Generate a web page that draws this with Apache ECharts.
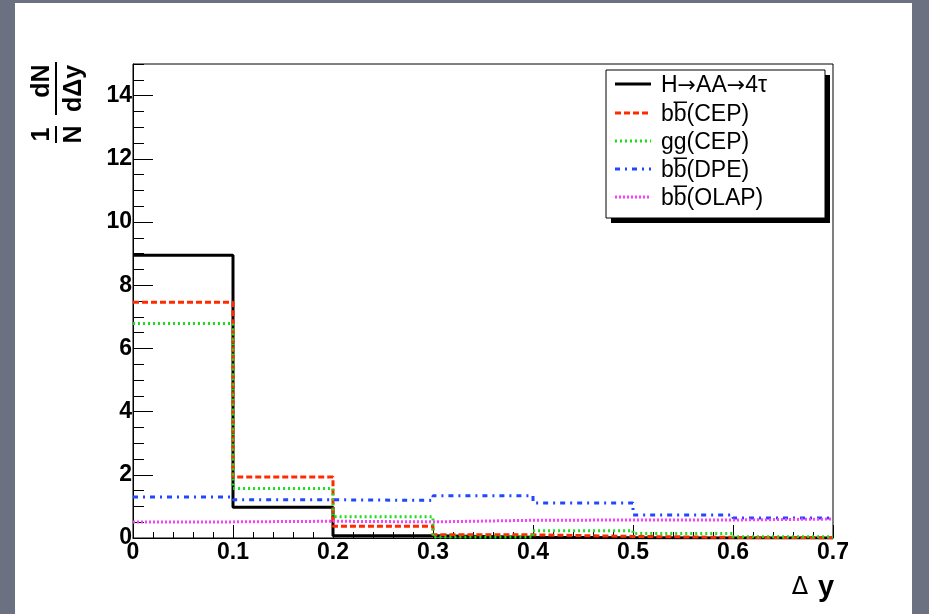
<!DOCTYPE html>
<html>
<head>
<meta charset="utf-8">
<script src="https://cdn.jsdelivr.net/npm/echarts@6/dist/echarts.min.js"></script>
<style>
  html, body { margin: 0; padding: 0; background: #6b7180; }
  #chart { width: 929px; height: 614px; }
</style>
</head>
<body>
<div id="chart"></div>
<script>
// Normalised Δy distributions, 7 bins of width 0.1 between 0 and 0.7
const binEdges = [0, 0.1, 0.2, 0.3, 0.4, 0.5, 0.6, 0.7];
const seriesNames = ['H\u2192AA\u21924\u03c4', 'bb\u0305(CEP)', 'gg(CEP)', 'bb\u0305(DPE)', 'bb\u0305(OLAP)'];
const hToAA4tau = [8.95, 0.97, 0.07, 0.02, 0.01, 0.00, 0.00];
const bbCEP     = [7.46, 1.93, 0.37, 0.10, 0.05, 0.02, 0.01];
const ggCEP     = [6.79, 1.57, 0.67, 0.03, 0.23, 0.14, 0.04];
const bbDPE     = [1.30, 1.21, 1.19, 1.34, 1.11, 0.73, 0.63];
const bbOLAP    = [0.51, 0.53, 0.51, 0.56, 0.57, 0.57, 0.60];

const seriesValues = [hToAA4tau, bbCEP, ggCEP, bbDPE, bbOLAP];
const seriesColors = ['#000000', '#ff2a00', '#19e019', '#1f48ff', '#ff3cff'];
const seriesDash = ['solid', [6, 3], [2, 3], [5, 5, 2, 5], [2, 2]];

// histogram outline: each bin value held from its lower edge to the next edge
function histSteps(vals) {
  return binEdges.map((e, i) => [e, vals[Math.min(i, vals.length - 1)]]);
}

const labelFont = { fontFamily: 'Liberation Sans', fontWeight: 'bold', fontSize: 23, color: '#000' };
const txtFont = '23px "Liberation Sans"';
const boldFont = 'bold 25px "Liberation Sans"';

// legend entries: arrows set in a wider face so they read at full size
function legendText(name) {
  return name.split(/(\u2192)/).filter(s => s.length)
    .map(s => s === '\u2192' ? '{a|\u2192}' : '{t|' + s + '}').join('');
}

const legendRowY = [84, 113, 141, 169, 197];
const legendChildren = [
  { type: 'rect', shape: { x: 611, y: 75, width: 219, height: 148 }, style: { fill: '#000' } },
  { type: 'rect', shape: { x: 606, y: 70, width: 219, height: 148 }, style: { fill: '#fff', stroke: '#000', lineWidth: 1 } }
];
seriesNames.forEach((name, i) => {
  legendChildren.push({
    type: 'line',
    shape: { x1: 615, y1: legendRowY[i], x2: 651, y2: legendRowY[i] },
    style: { stroke: seriesColors[i], lineWidth: 3, lineDash: seriesDash[i] === 'solid' ? null : seriesDash[i] }
  });
  legendChildren.push({
    type: 'text', x: 661, y: legendRowY[i] + 2,
    style: {
      text: legendText(name), fill: '#000', verticalAlign: 'middle', align: 'left',
      rich: {
        t: { font: txtFont, fill: '#000' },
        a: { font: '22px "DejaVu Sans"', fill: '#000' }
      }
    }
  });
});

const chart = echarts.init(document.getElementById('chart'), null, { renderer: 'canvas' });
chart.setOption({
  backgroundColor: '#6b7180',
  animation: false,
  grid: {
    left: 133, right: 96, top: 64, bottom: 76,
    show: true, borderColor: '#000', borderWidth: 1, backgroundColor: 'transparent'
  },
  xAxis: {
    type: 'value', min: 0, max: 0.7, interval: 0.1,
    axisLine: { show: true, onZero: false, lineStyle: { color: '#000', width: 1 } },
    axisTick: { show: true, inside: true, length: 13, lineStyle: { color: '#000', width: 1 } },
    minorTick: { show: true, splitNumber: 5, length: 6, lineStyle: { color: '#000', width: 1 } },
    axisLabel: Object.assign({ margin: 3 }, labelFont),
    splitLine: { show: false }, minorSplitLine: { show: false }
  },
  yAxis: [
    {
      type: 'value', min: 0, max: 15, interval: 2,
      axisLine: { show: true, lineStyle: { color: '#000', width: 1 } },
      axisTick: { show: true, inside: true, length: 20, lineStyle: { color: '#000', width: 1 } },
      axisLabel: Object.assign({ margin: 1, showMaxLabel: false }, labelFont),
      splitLine: { show: false }
    },
    {
      type: 'value', min: 0, max: 15, interval: 0.5, position: 'left',
      axisLine: { show: false },
      axisTick: { show: true, inside: true, length: 11, lineStyle: { color: '#000', width: 1 } },
      axisLabel: { show: false },
      splitLine: { show: false }
    }
  ],
  series: seriesValues.map((vals, i) => ({
    type: 'line', name: seriesNames[i], step: 'end', yAxisIndex: 0,
    data: histSteps(vals), symbol: 'none', z: 3 + i,
    lineStyle: { color: seriesColors[i], width: 3, type: seriesDash[i], cap: 'butt' }
  })),
  graphic: [
    { type: 'rect', z: -10, silent: true, shape: { x: 15, y: 3, width: 897, height: 620 }, style: { fill: '#fff' } },
    { type: 'group', children: legendChildren },
    // y-axis title: (1/N) (dN/dΔy), rotated to read upwards
    {
      type: 'group', x: 56, y: 143, rotation: Math.PI / 2,
      children: [
        { type: 'line', shape: { x1: 0, y1: 0, x2: 17, y2: 0 }, style: { stroke: '#000', lineWidth: 2 } },
        { type: 'text', x: 8.5, y: -1, style: { text: '1', font: boldFont, fill: '#000', align: 'center', verticalAlign: 'bottom' } },
        { type: 'text', x: 8.5, y: 6, style: { text: 'N', font: boldFont, fill: '#000', align: 'center', verticalAlign: 'top' } },
        { type: 'line', shape: { x1: 28, y1: 0, x2: 81, y2: 0 }, style: { stroke: '#000', lineWidth: 2 } },
        { type: 'text', x: 62, y: -1, style: { text: 'dN', font: boldFont, fill: '#000', align: 'center', verticalAlign: 'bottom' } },
        { type: 'text', x: 54.5, y: 6, style: { text: 'd\u0394y', font: boldFont, fill: '#000', align: 'center', verticalAlign: 'top' } }
      ]
    },
    // x-axis title
    { type: 'text', x: 800, y: 588, style: { text: '\u0394', font: '24px "DejaVu Sans"', fill: '#000', align: 'center', verticalAlign: 'middle' } },
    { type: 'text', x: 826, y: 588, style: { text: 'y', font: 'bold 29px "Liberation Sans"', fill: '#000', align: 'center', verticalAlign: 'middle' } }
  ]
});
</script>
</body>
</html>
